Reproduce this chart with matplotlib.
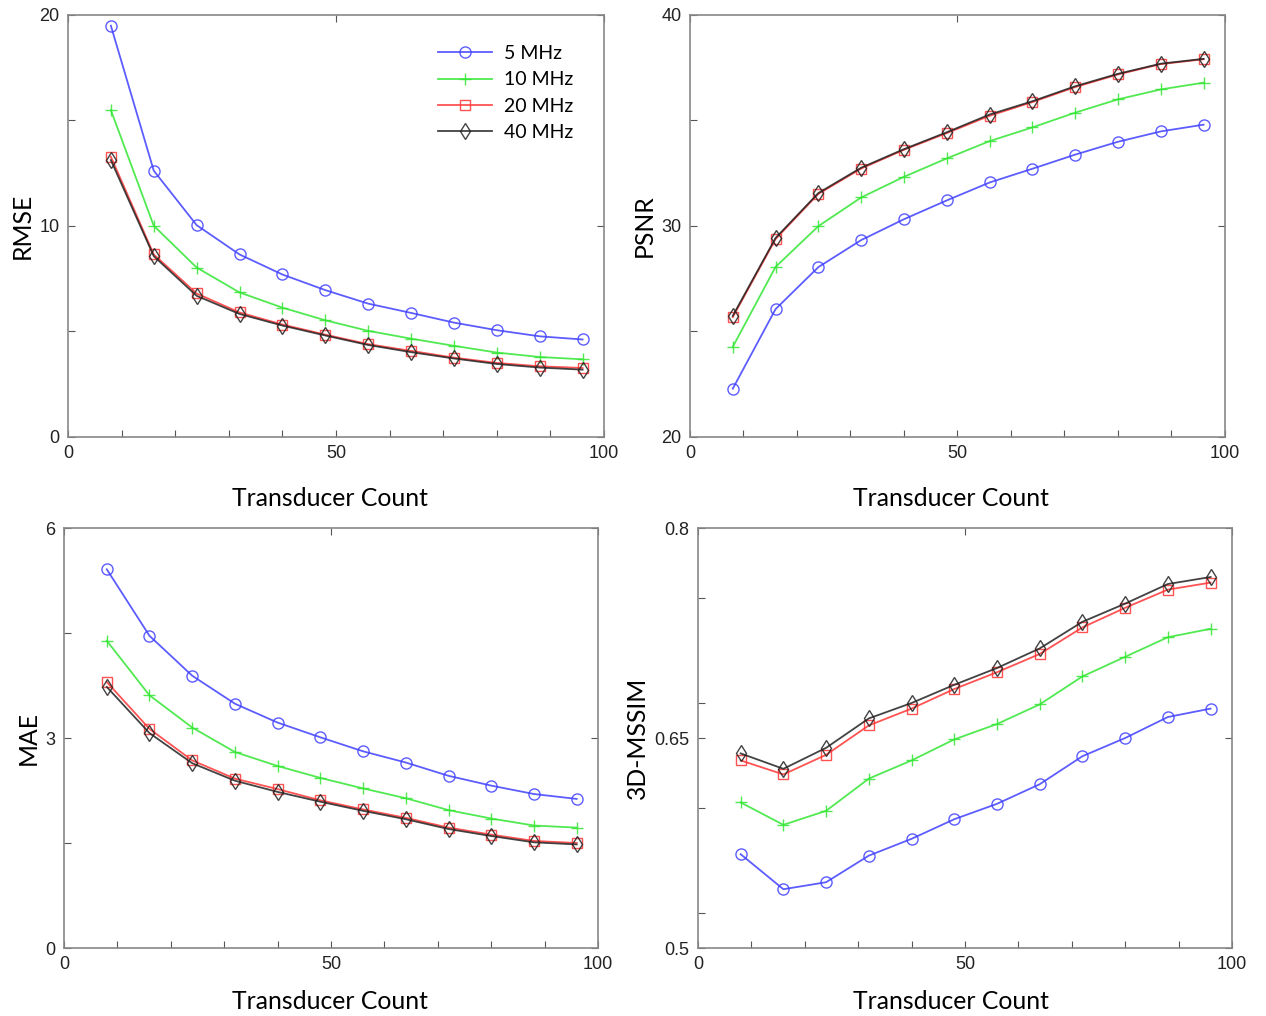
import numpy as np
import matplotlib
matplotlib.use("Agg")
import matplotlib.pyplot as plt
from matplotlib.ticker import MultipleLocator

# transducer counts and the four frequencies
counts = [8, 16, 24, 32, 40, 48, 56, 64, 72, 80, 88, 96]
freqs = ["5 MHz", "10 MHz", "20 MHz", "40 MHz"]

rmse_5 = [19.49, 12.62, 10.04, 8.65, 7.70, 6.96, 6.32, 5.88, 5.42, 5.06, 4.77, 4.62]
rmse_10 = [15.49, 10.01, 8.03, 6.85, 6.13, 5.53, 5.03, 4.66, 4.32, 4.00, 3.79, 3.68]
rmse_20 = [13.28, 8.65, 6.80, 5.90, 5.33, 4.85, 4.40, 4.08, 3.76, 3.51, 3.35, 3.27]
rmse_40 = [13.12, 8.57, 6.69, 5.83, 5.28, 4.81, 4.36, 4.02, 3.72, 3.46, 3.29, 3.19]

psnr_5 = [22.29, 26.06, 28.05, 29.33, 30.32, 31.21, 32.06, 32.71, 33.38, 33.99, 34.48, 34.80]
psnr_10 = [24.27, 28.06, 29.99, 31.35, 32.33, 33.20, 34.02, 34.67, 35.37, 36.00, 36.47, 36.79]
psnr_20 = [25.68, 29.38, 31.52, 32.72, 33.61, 34.40, 35.22, 35.87, 36.58, 37.18, 37.67, 37.90]
psnr_40 = [25.74, 29.43, 31.56, 32.76, 33.64, 34.44, 35.28, 35.91, 36.62, 37.21, 37.69, 37.92]

mae_5 = [5.41, 4.46, 3.89, 3.49, 3.22, 3.01, 2.81, 2.65, 2.46, 2.32, 2.20, 2.13]
mae_10 = [4.39, 3.61, 3.15, 2.80, 2.60, 2.43, 2.28, 2.14, 1.97, 1.85, 1.75, 1.72]
mae_20 = [3.80, 3.13, 2.68, 2.42, 2.27, 2.11, 1.98, 1.86, 1.72, 1.62, 1.53, 1.50]
mae_40 = [3.73, 3.07, 2.64, 2.39, 2.23, 2.09, 1.96, 1.84, 1.70, 1.60, 1.51, 1.48]

ssim_5 = [0.567, 0.542, 0.547, 0.566, 0.578, 0.592, 0.603, 0.617, 0.637, 0.650, 0.665, 0.671]
ssim_10 = [0.604, 0.588, 0.598, 0.621, 0.634, 0.649, 0.660, 0.674, 0.694, 0.708, 0.722, 0.728]
ssim_20 = [0.634, 0.624, 0.638, 0.659, 0.671, 0.685, 0.697, 0.710, 0.729, 0.743, 0.756, 0.761]
ssim_40 = [0.639, 0.628, 0.643, 0.664, 0.675, 0.688, 0.700, 0.714, 0.733, 0.746, 0.760, 0.765]

colors = ["#4040ff", "#33e633", "#ff3535", "#222222"]
markers = ["o", "+", "s", "d"]
msizes = [8, 9, 7, 8]

label_font = "Lato"
tick_font = "Liberation Sans"


def draw_panel(ax, series, ylabel, ylim, yticks, yticklabels, xpad, xlab_x):
	# one metric vs transducer count, all four frequencies
	for i in range(4):
		ax.plot(counts, series[i], color=colors[i], marker=markers[i], ms=msizes[i],
			mfc="none", mec=colors[i], mew=1.0, lw=1.3, alpha=0.85, label=freqs[i])
	ax.set_xlim(0, 100)
	ax.set_ylim(ylim)
	ax.set_xticks([0, 50, 100])
	ax.set_yticks(yticks)
	ax.set_yticklabels(yticklabels)
	ax.xaxis.set_minor_locator(MultipleLocator(10))
	ax.yaxis.set_minor_locator(MultipleLocator((yticks[1] - yticks[0]) / 2))
	ax.tick_params(which="major", direction="in", length=5, width=0.8, color="#555555",
		top=True, right=True, labelsize=13, pad=6)
	ax.tick_params(which="minor", direction="in", length=5, width=0.8, color="#555555",
		top=False, right=False)
	for lab in ax.get_xticklabels() + ax.get_yticklabels():
		lab.set_fontfamily(tick_font)
		lab.set_color("#222222")
	for s in ax.spines.values():
		s.set_color("#888888")
		s.set_linewidth(1.2)
	ax.set_xlabel("Transducer Count", fontsize=17.8, family=label_font, labelpad=xpad)
	ax.set_ylabel(ylabel, fontsize=17.8, family=label_font, labelpad=4)
	# label sits a little left of the axis centre in the original
	ax.xaxis.label.set_x(xlab_x)


fig = plt.figure(figsize=(12.66, 10.16), dpi=100)
ax1 = fig.add_axes([0.0537, 0.5699, 0.4234, 0.4154])
ax2 = fig.add_axes([0.5450, 0.5699, 0.4226, 0.4154])
ax3 = fig.add_axes([0.0506, 0.0669, 0.4218, 0.4134])
ax4 = fig.add_axes([0.5513, 0.0669, 0.4218, 0.4134])

draw_panel(ax1, [rmse_5, rmse_10, rmse_20, rmse_40], "RMSE", (0, 20), [0, 10, 20],
	["0", "10", "20"], 18, 0.489)
draw_panel(ax2, [psnr_5, psnr_10, psnr_20, psnr_40], "PSNR", (20, 40), [20, 30, 40],
	["20", "30", "40"], 18, 0.488)
draw_panel(ax3, [mae_5, mae_10, mae_20, mae_40], "MAE", (0, 6), [0, 3, 6],
	["0", "3", "6"], 12, 0.498)
draw_panel(ax4, [ssim_5, ssim_10, ssim_20, ssim_40], "3D-MSSIM", (0.5, 0.8), [0.5, 0.65, 0.8],
	["0.5", "0.65", "0.8"], 12, 0.474)

leg = ax1.legend(loc="upper right", bbox_to_anchor=(0.975, 0.97), frameon=False,
	prop={"family": label_font, "size": 14}, handlelength=2.8, labelspacing=0.48,
	handletextpad=0.6)

plt.savefig("out.png", dpi=100)
plt.close()
